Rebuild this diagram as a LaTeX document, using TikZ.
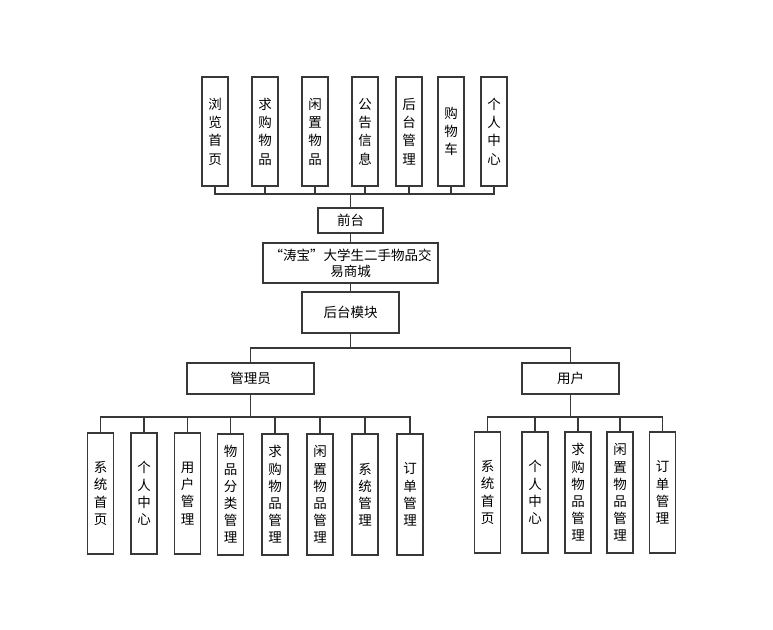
\documentclass[tikz,border=0pt]{standalone}
\usepackage{fontspec}
\setmainfont{Noto Sans CJK SC}
\begin{document}
\begin{tikzpicture}[x=1pt,y=-1pt,
  box/.style={draw=black!78, line width=1.2pt, fill=white, inner sep=0pt, align=center,
    font=\fontsize{13.5}{17.5}\selectfont},
  topbox/.style={box, minimum width=26pt, minimum height=109pt, font=\fontsize{13.5}{18.3}\selectfont},
  botbox/.style={box, minimum width=26pt, minimum height=121pt, font=\fontsize{13.5}{17.2}\selectfont},
  conn/.style={draw=black!78, line width=1.2pt}]
\useasboundingbox (0,0) rectangle (773,629);
% top row
\node[topbox] (t1) at (215,131.5) {浏\\览\\首\\页};
\node[topbox] (t2) at (265,131.5) {求\\购\\物\\品};
\node[topbox] (t3) at (315,131.5) {闲\\置\\物\\品};
\node[topbox] (t4) at (365,131.5) {公\\告\\信\\息};
\node[topbox] (t5) at (409,131.5) {后\\台\\管\\理};
\node[topbox] (t6) at (451,131.5) {购\\物\\车};
\node[topbox] (t7) at (494,131.5) {个\\人\\中\\心};
\coordinate (tb) at (350.5,194);
\foreach \i in {1,...,7} {\draw[conn] (t\i.south) |- (tb);}
% middle
\node[box, minimum width=65pt, minimum height=25pt] (qt) at (350.5,220.5) {前台};
\node[box, minimum width=175pt, minimum height=40pt, font=\fontsize{13.5}{16}\selectfont] (main) at (350.5,263) {“涛宝”大学生二手物品交\\易商城};
\node[box, minimum width=97pt, minimum height=41pt] (hm) at (350.5,312.5) {后台模块};
\draw[conn] (tb) -- (qt.north);
\draw[conn] (qt.south) -- (main.north);
\draw[conn] (main.south) -- (hm.south |- main.south) -- (hm.north);
% level 2
\node[box, minimum width=127pt, minimum height=31pt] (gly) at (250.5,378.5) {管理员};
\node[box, minimum width=97pt, minimum height=31pt] (yh) at (570.5,378.5) {用户};
\coordinate (hb) at (350.5,348);
\draw[conn] (hm.south) -- (hb);
\draw[conn] (gly.north) |- (hb);
\draw[conn] (yh.north) |- (hb);
% admin children
\node[botbox] (a1) at (100.5,493.5) {系\\统\\首\\页};
\node[botbox] (a2) at (144,493.5) {个\\人\\中\\心};
\node[botbox] (a3) at (187.5,493.5) {用\\户\\管\\理};
\node[botbox] (a4) at (230.5,494.5) {物\\品\\分\\类\\管\\理};
\node[botbox] (a5) at (275,494.5) {求\\购\\物\\品\\管\\理};
\node[botbox] (a6) at (320,494.5) {闲\\置\\物\\品\\管\\理};
\node[botbox] (a7) at (365,494.5) {系\\统\\管\\理};
\node[botbox] (a8) at (410,494.5) {订\\单\\管\\理};
\coordinate (ab) at (250.5,417);
\draw[conn] (gly.south) -- (ab);
\foreach \i in {1,...,8} {\draw[conn] (a\i.north) |- (ab);}
% user children
\node[botbox] (u1) at (487.5,492.5) {系\\统\\首\\页};
\node[botbox] (u2) at (535,492.5) {个\\人\\中\\心};
\node[botbox] (u3) at (578,492.5) {求\\购\\物\\品\\管\\理};
\node[botbox] (u4) at (620,492.5) {闲\\置\\物\\品\\管\\理};
\node[botbox] (u5) at (662.5,492.5) {订\\单\\管\\理};
\coordinate (ub) at (570.5,417);
\draw[conn] (yh.south) -- (ub);
\foreach \i in {1,...,5} {\draw[conn] (u\i.north) |- (ub);}
\end{tikzpicture}
\end{document}
